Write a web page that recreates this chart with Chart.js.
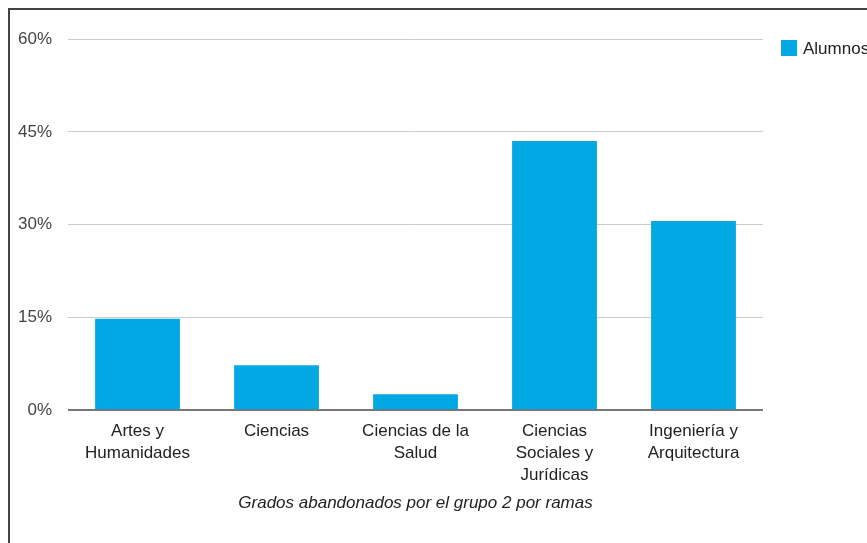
<!DOCTYPE html>
<html>
<head>
<meta charset="utf-8">
<script src="https://cdn.jsdelivr.net/npm/chart.js@4.4.0/dist/chart.umd.min.js"></script>
<style>
  html, body { margin: 0; padding: 0; background: #fff; overflow: hidden; }
  #wrap { position: absolute; left: 0; top: 0; width: 867px; height: 543px; overflow: hidden; }
  #frame { position: absolute; left: 8px; top: 8px; width: 900px; height: 600px;
           border-left: 2px solid #444; border-top: 2px solid #444; pointer-events: none; }
</style>
</head>
<body>
<div id="wrap">
  <canvas id="myChart" width="867" height="543"></canvas>
  <div id="frame"></div>
</div>
<script>
var categories = [
    ['Artes y', 'Humanidades'],
    ['Ciencias'],
    ['Ciencias de la', 'Salud'],
    ['Ciencias', 'Sociales y', 'Jurídicas'],
    ['Ingeniería y', 'Arquitectura']
];
var alumnos = [14.8, 7.3, 2.6, 43.5, 30.6];
var yTicks = [0, 15, 30, 45, 60];

Chart.defaults.font.family = "'Liberation Sans', Arial, sans-serif";
Chart.defaults.font.size = 17;
Chart.defaults.color = '#222';

// legend drawn next to the plot, clipped by the page edge like the original
var sideLegend = {
    id: 'sideLegend',
    afterDraw: function (chart) {
        var c = chart.ctx;
        var area = chart.chartArea;
        var ds = chart.data.datasets[0];
        var x = area.right + 18;
        var y = area.top + 1;
        c.save();
        c.fillStyle = ds.backgroundColor;
        c.fillRect(x, y, 16, 16);
        c.fillStyle = '#222';
        c.font = "17px 'Liberation Sans', Arial, sans-serif";
        c.textBaseline = 'middle';
        c.fillText(ds.label, x + 22, y + 9);
        c.restore();
    }
};

function renderChart() {
    var ctx = document.getElementById('myChart').getContext('2d');
    var myChart = new Chart(ctx, {
        type: 'bar',
        data: {
            labels: categories,
            datasets: [{
                label: 'Alumnos',
                data: alumnos,
                backgroundColor: '#02a8e3',
                borderWidth: 0,
                categoryPercentage: 0.61,
                barPercentage: 1
            }]
        },
        options: {
            responsive: false,
            animation: false,
            layout: {
                padding: { top: 39, left: 2, right: 104, bottom: 30 }
            },
            plugins: {
                legend: { display: false },
                tooltip: { enabled: false }
            },
            scales: {
                x: {
                    grid: { display: false },
                    border: { display: false },
                    ticks: { color: '#222', padding: 2, maxRotation: 0, autoSkip: false,
                             font: { size: 17, lineHeight: 1.3 } },
                    title: {
                        display: true,
                        text: 'Grados abandonados por el grupo 2 por ramas',
                        color: '#222',
                        font: { style: 'italic', size: 17, weight: 'normal' },
                        padding: { top: 4, bottom: 0 }
                    }
                },
                y: {
                    min: 0,
                    max: 60,
                    afterBuildTicks: function (axis) {
                        axis.ticks = yTicks.map(function (v) { return { value: v }; });
                    },
                    grid: {
                        drawTicks: false,
                        color: function (c) { return c.tick && c.tick.value === 0 ? '#777' : '#ccc'; },
                        lineWidth: function (c) { return c.tick && c.tick.value === 0 ? 2 : 1; }
                    },
                    border: { display: false },
                    ticks: {
                        color: '#444',
                        padding: 16,
                        callback: function (v) { return v + '%'; }
                    }
                }
            }
        },
        plugins: [sideLegend]
    });
}
renderChart();
</script>
</body>
</html>
